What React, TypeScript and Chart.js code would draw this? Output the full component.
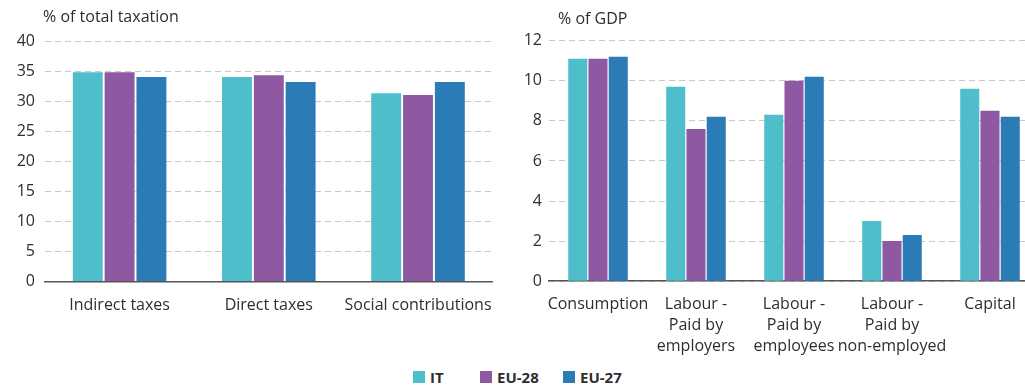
import React, { useEffect, useRef } from "react";
import { Chart, registerables } from "chart.js";

Chart.register(...registerables);

const FONT = "'Open Sans', 'Noto Sans', sans-serif";

const SERIES_NAMES = ["IT", "EU-28", "EU-27"];
const SERIES_COLORS = ["#4dbeca", "#8f58a2", "#2b7bb6"];

// Left panel: % of total taxation
const leftCategories = ["Indirect taxes", "Direct taxes", "Social contributions"];
const leftIT = [34.9, 34.1, 31.4];
const leftEU28 = [34.9, 34.4, 31.1];
const leftEU27 = [34.1, 33.3, 33.3];
const leftTitle = "% of total taxation";
const leftMax = 40;
const leftStep = 5;

// Right panel: % of GDP
const rightCategories = [
  ["Consumption"],
  ["Labour -", "Paid by", "employers"],
  ["Labour -", "Paid by", "employees"],
  ["Labour -", "Paid by", "non-employed"],
  ["Capital"],
];
const rightIT = [11.1, 9.7, 8.3, 3.0, 9.6];
const rightEU28 = [11.1, 7.6, 10.0, 2.0, 8.5];
const rightEU27 = [11.2, 8.2, 10.2, 2.3, 8.2];
const rightTitle = "% of GDP";
const rightMax = 12;
const rightStep = 2;

type PanelProps = {
  categories: any[];
  series: number[][];
  max: number;
  step: number;
  title: string;
  titleX: number;
  titleY: number;
  width: number;
  height: number;
  yWidth: number;
  yPad: number;
  padTop: number;
  padRight: number;
  bottomY: number;
  catPct: number;
  left: number;
};

function Panel(p: PanelProps) {
  const ref = useRef<HTMLCanvasElement | null>(null);
  useEffect(() => {
    if (!ref.current) return;
    const titlePlugin = {
      id: "panelTitle",
      afterDraw(chart: any) {
        const ctx = chart.ctx;
        ctx.save();
        ctx.font = `16px ${FONT}`;
        ctx.fillStyle = "#2e2e2e";
        ctx.textAlign = "left";
        ctx.textBaseline = "middle";
        ctx.fillText(p.title, p.titleX, p.titleY);
        ctx.restore();
      },
    };
    const chart = new Chart(ref.current, {
      type: "bar",
      data: {
        labels: p.categories,
        datasets: p.series.map((d, i) => ({
          label: SERIES_NAMES[i],
          data: d,
          backgroundColor: SERIES_COLORS[i],
          borderWidth: 0,
          categoryPercentage: p.catPct,
          barPercentage: 0.94,
        })),
      },
      options: {
        responsive: false,
        animation: false,
        devicePixelRatio: 1,
        layout: { padding: { top: p.padTop, right: p.padRight, left: 0, bottom: 0 } },
        plugins: {
          legend: { display: false },
          tooltip: { enabled: false },
          title: { display: false },
        },
        scales: {
          x: {
            grid: { display: false, drawTicks: false },
            border: { display: true, color: "#555", width: 1.6 },
            ticks: {
              autoSkip: false,
              maxRotation: 0,
              minRotation: 0,
              padding: 13,
              color: "#2e2e2e",
              font: { family: FONT, size: 16, lineHeight: 1.3 },
            },
            afterFit(s: any) {
              s.height = p.height - p.bottomY;
            },
          },
          y: {
            min: 0,
            max: p.max,
            ticks: {
              stepSize: p.step,
              padding: p.yPad,
              color: "#2e2e2e",
              font: { family: FONT, size: 16 },
            },
            grid: { color: "#c9c9c9", lineWidth: 1, drawTicks: false },
            border: { display: false, dash: [6, 4] },
            afterFit(s: any) {
              s.width = p.yWidth;
            },
          },
        },
      },
      plugins: [titlePlugin],
    } as any);
    return () => chart.destroy();
  }, []);
  return (
    <div style={{ position: "absolute", left: p.left, top: 0, width: p.width, height: p.height }}>
      <canvas ref={ref} width={p.width} height={p.height} style={{ width: p.width, height: p.height }} />
    </div>
  );
}

const legendLeft = [413, 480, 563];

export default function App() {
  return (
    <div
      style={{
        position: "fixed",
        left: 0,
        top: 0,
        width: 1025,
        height: 390,
        overflow: "hidden",
        background: "#fff",
        fontFamily: FONT,
      }}
    >
      <Panel
        categories={leftCategories}
        series={[leftIT, leftEU28, leftEU27]}
        max={leftMax}
        step={leftStep}
        title={leftTitle}
        titleX={43}
        titleY={17}
        width={505}
        height={360}
        yWidth={45}
        yPad={10}
        padTop={41.7}
        padRight={3}
        bottomY={281.6}
        catPct={0.64}
        left={0}
      />
      <Panel
        categories={rightCategories}
        series={[rightIT, rightEU28, rightEU27]}
        max={rightMax}
        step={rightStep}
        title={rightTitle}
        titleX={48}
        titleY={19.5}
        width={530}
        height={360}
        yWidth={39}
        yPad={7}
        padTop={40.7}
        padRight={1}
        bottomY={281.2}
        catPct={0.62}
        left={510}
      />
      {SERIES_NAMES.map((name, i) => (
        <div
          key={name}
          style={{
            position: "absolute",
            left: legendLeft[i],
            top: 368,
            height: 18,
            display: "flex",
            alignItems: "center",
            gap: 5,
            fontWeight: 700,
            fontSize: 15,
            color: "#2e2e2e",
            lineHeight: "18px",
          }}
        >
          <span style={{ display: "inline-block", width: 12, height: 12, background: SERIES_COLORS[i] }} />
          <span>{name}</span>
        </div>
      ))}
    </div>
  );
}
